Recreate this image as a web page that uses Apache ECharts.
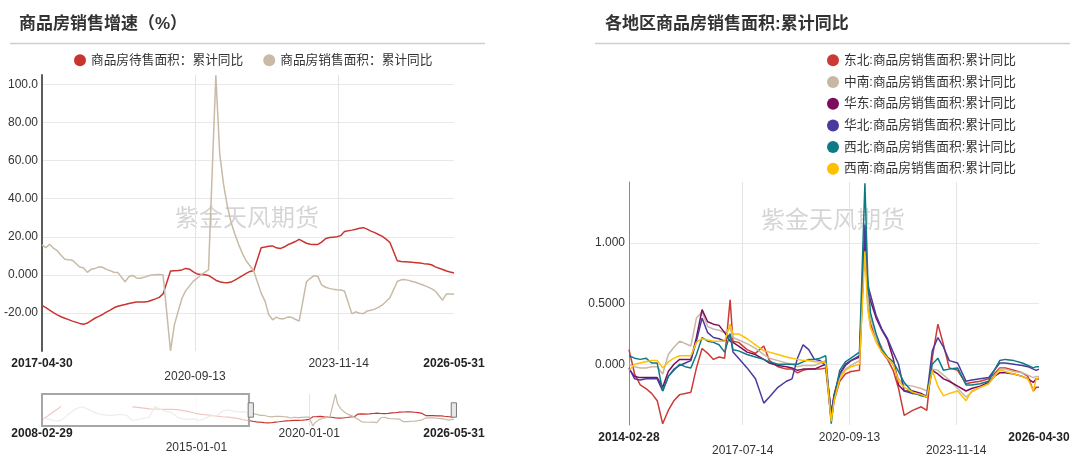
<!DOCTYPE html>
<html>
<head>
<meta charset="utf-8">
<title>商品房销售</title>
<script src="https://cdn.jsdelivr.net/npm/echarts@6/dist/echarts.min.js"></script>
<style>
html, body { margin: 0; padding: 0; background: #fff; }
#main { width: 1080px; height: 458px; }
</style>
</head>
<body>
<div id="main"></div>
<script>
var FONT = '"Liberation Sans", "Noto Sans CJK SC", sans-serif';

// ---- 左图：商品房销售增速（%） ----
var salesDates = [
	'2008-02-29', '2008-05-31', '2008-08-31', '2008-11-30', '2008-12-31',
	'2009-02-28', '2009-05-31', '2009-08-31', '2009-11-30',
	'2010-02-28', '2010-05-31', '2010-08-31', '2010-11-30',
	'2011-02-28', '2011-05-31', '2011-08-31', '2011-11-30',
	'2012-02-29', '2012-05-31', '2012-08-31', '2012-11-30',
	'2013-02-28', '2013-05-31', '2013-08-31', '2013-11-30',
	'2014-02-28', '2014-05-31', '2014-08-31', '2014-11-30',
	'2015-02-28', '2015-05-31', '2015-08-31', '2015-11-30',
	'2016-02-29', '2016-05-31', '2016-08-31', '2016-11-30',
	'2017-02-28', '2017-03-31',
	'2017-04-30', '2017-05-31', '2017-06-30', '2017-07-31', '2017-08-31', '2017-09-30', '2017-10-31', '2017-11-30', '2017-12-31',
	'2018-02-28', '2018-03-31', '2018-04-30', '2018-05-31', '2018-06-30', '2018-07-31', '2018-08-31', '2018-09-30', '2018-10-31', '2018-11-30', '2018-12-31',
	'2019-02-28', '2019-03-31', '2019-04-30', '2019-05-31', '2019-06-30', '2019-07-31', '2019-08-31', '2019-09-30', '2019-10-31', '2019-11-30', '2019-12-31',
	'2020-02-29', '2020-03-31', '2020-04-30', '2020-05-31', '2020-06-30', '2020-07-31', '2020-08-31', '2020-09-30', '2020-10-31', '2020-11-30', '2020-12-31',
	'2021-02-28', '2021-03-31', '2021-04-30', '2021-05-31', '2021-06-30', '2021-07-31', '2021-08-31', '2021-09-30', '2021-10-31', '2021-11-30', '2021-12-31',
	'2022-02-28', '2022-03-31', '2022-04-30', '2022-05-31', '2022-06-30', '2022-07-31', '2022-08-31', '2022-09-30', '2022-10-31', '2022-11-30', '2022-12-31',
	'2023-02-28', '2023-03-31', '2023-04-30', '2023-05-31', '2023-06-30', '2023-07-31', '2023-08-31', '2023-09-30', '2023-10-31', '2023-11-30', '2023-12-31',
	'2024-02-29', '2024-03-31', '2024-04-30', '2024-05-31', '2024-06-30', '2024-07-31', '2024-08-31', '2024-09-30', '2024-10-31', '2024-11-30', '2024-12-31',
	'2025-02-28', '2025-03-31', '2025-04-30', '2025-05-31', '2025-06-30', '2025-07-31', '2025-08-31', '2025-09-30', '2025-10-31', '2025-11-30', '2025-12-31',
	'2026-02-28', '2026-03-31', '2026-04-30', '2026-05-31'
];
// 商品房待售面积：累计同比
var unsoldArea = [
	-12, 5, 25, 42, 50,
	null, null, null, null,
	null, null, null, null,
	null, null, null, null,
	47, 44, 41, 38,
	37, 36, 35, 35,
	34, 30, 25, 19,
	14, 11, 8, 5,
	2, 0, -3, -8,
	-13, -15,
	-16.0, -17.2, -18.5, -19.8, -21.0, -22.0, -22.8, -23.5, -24.3,
	-25.5, -26.0, -25.3, -24.0, -22.8, -21.8, -20.8, -19.6, -18.5, -17.3, -16.5,
	-15.6, -15.0, -14.6, -14.3, -14.2, -14.3, -14.0, -13.3, -12.6, -11.8, -10.0,
	2.0, 2.2, 2.3, 2.6, 3.4, 3.0, 1.6, 0.5, 0.2, 0.0, -0.3,
	-2.8, -3.6, -4.0, -4.2, -3.8, -2.8, -1.6, -0.4, 0.8, 1.8, 2.3,
	14.2, 14.6, 15.0, 15.2, 14.2, 13.8, 14.6, 15.8, 16.6, 17.5, 18.6,
	16.6, 16.1, 16.0, 16.0, 17.2, 19.0, 19.6, 19.8, 20.0, 20.6, 22.8,
	23.5, 24.0, 24.5, 24.8, 24.0, 23.0, 22.2, 21.2, 20.2, 18.8, 17.0,
	7.4, 7.0, 6.9, 6.8, 6.6, 6.4, 6.2, 5.9, 5.7, 5.3, 4.2,
	2.8, 2.0, 1.5, 1.0
];
// 商品房销售面积：累计同比
var soldArea = [
	-2, -8, -15, -18, -19.7,
	-3, 20, 38, 47,
	38, 25, 15, 10,
	7, 10, 12, 8,
	-14, -11, -5, 0,
	49, 35, 26, 20,
	-1, -8, -10, -8,
	-16, -3, 6, 7,
	28, 33, 26, 24,
	25, 19.5,
	15.7, 14.3, 16.1, 14.0, 12.7, 10.3, 8.2, 7.9, 7.7,
	4.1, 3.6, 1.3, 2.9, 3.3, 4.2, 4.0, 2.9, 2.2, 1.4, 1.3,
	-3.6, -0.9, -0.3, -1.6, -1.8, -1.3, -0.6, -0.1, 0.1, 0.2, -0.1,
	-39.9, -26.3, -19.3, -12.3, -8.4, -5.8, -3.3, -1.8, 0.0, 1.3, 2.6,
	104.9, 63.8, 48.1, 36.3, 27.7, 21.5, 15.9, 11.3, 7.3, 4.8, 1.9,
	-9.6, -13.8, -20.9, -23.6, -22.2, -23.1, -23.0, -22.2, -22.3, -23.3, -24.3,
	-3.6, -1.8, -0.4, -0.9, -5.3, -6.5, -7.1, -7.5, -7.8, -8.0, -8.5,
	-20.5, -19.4, -20.2, -20.3, -19.0, -18.6, -18.0, -17.1, -15.8, -14.0, -12.0,
	-3.5, -2.6, -2.5, -2.9, -3.5, -4.0, -4.8, -5.5, -6.3, -7.2, -8.5,
	-13.3, -10.0, -10.0, -10.2
];
var salesNames = ['商品房待售面积：累计同比', '商品房销售面积：累计同比'];
var salesTicks = ['2017-04-30', '2020-09-13', '2023-11-14', '2026-05-31'];
var sliderTicks = ['2008-02-29', '2015-01-01', '2020-01-01', '2026-05-31'];
var windowStart = '2017-04-30';
var windowEnd = '2026-05-31';

// ---- 右图：各地区商品房销售面积:累计同比 ----
var regionDates = [
	'2014-02-28', '2014-04-30', '2014-06-30', '2014-08-31', '2014-10-31', '2014-12-31',
	'2015-02-28', '2015-04-30', '2015-06-30', '2015-08-31', '2015-10-31', '2015-12-31',
	'2016-02-29', '2016-04-30', '2016-06-30', '2016-08-31', '2016-10-31', '2016-12-31',
	'2017-02-28', '2017-03-31', '2017-05-31', '2017-08-31', '2017-11-30',
	'2018-02-28', '2018-04-30', '2018-07-31', '2018-10-31', '2018-12-31',
	'2019-02-28', '2019-04-30', '2019-06-30', '2019-08-31', '2019-10-31', '2019-12-31',
	'2020-02-29', '2020-03-31', '2020-05-31', '2020-07-31', '2020-09-30', '2020-12-31',
	'2021-02-28', '2021-03-31', '2021-04-30', '2021-06-30', '2021-08-31', '2021-10-31', '2021-12-31',
	'2022-02-28', '2022-04-30', '2022-07-31', '2022-10-31', '2022-12-31',
	'2023-02-28', '2023-04-30', '2023-06-30', '2023-08-31', '2023-11-30',
	'2024-02-29', '2024-04-30', '2024-07-31', '2024-10-31', '2024-12-31',
	'2025-02-28', '2025-04-30', '2025-07-31', '2025-10-31', '2025-12-31',
	'2026-02-28', '2026-03-31', '2026-04-30'
];
var northeast = [
	0.12, -0.08, -0.17, -0.20, -0.24, -0.30,
	-0.49, -0.38, -0.30, -0.25, -0.24, -0.23,
	-0.03, 0.13, 0.09, 0.04, 0.06, 0.05,
	0.53, 0.19, 0.18, 0.12, 0.09,
	0.15, 0.03, -0.02, -0.04, -0.04,
	-0.07, -0.05, -0.04, -0.04, -0.04, -0.03,
	-0.46, -0.30, -0.14, -0.08, -0.06, -0.05,
	1.10, 0.49, 0.33, 0.22, 0.10, 0.04, -0.05,
	-0.20, -0.42, -0.38, -0.35, -0.38,
	0.05, 0.33, 0.16, -0.03, -0.05,
	-0.16, -0.15, -0.14, -0.12, -0.08,
	-0.03, -0.03, -0.05, -0.07, -0.10,
	-0.22, -0.19, -0.19
];
var centralSouth = [
	0.00, -0.02, -0.03, -0.03, -0.02, -0.02,
	-0.08, 0.08, 0.14, 0.19, 0.17, 0.15,
	0.38, 0.43, 0.31, 0.29, 0.28, 0.26,
	0.30, 0.22, 0.20, 0.17, 0.13,
	0.08, 0.05, 0.03, 0.01, 0.00,
	-0.02, -0.01, -0.01, -0.01, 0.01, 0.03,
	-0.40, -0.27, -0.10, -0.04, -0.01, 0.03,
	1.00, 0.50, 0.38, 0.22, 0.14, 0.05, 0.00,
	-0.12, -0.17, -0.18, -0.20, -0.22,
	-0.04, -0.05, -0.09, -0.13, -0.20,
	-0.27, -0.23, -0.19, -0.16, -0.10,
	-0.04, -0.04, -0.06, -0.07, -0.09,
	-0.11, -0.10, -0.10
];
var eastChina = [
	-0.04, -0.10, -0.11, -0.11, -0.11, -0.11,
	-0.19, -0.06, 0.00, 0.04, 0.04, 0.04,
	0.22, 0.45, 0.35, 0.33, 0.32, 0.26,
	0.19, 0.18, 0.15, 0.10, 0.08,
	0.04, 0.01, -0.01, -0.02, -0.03,
	-0.05, -0.04, -0.04, -0.04, -0.02, 0.00,
	-0.41, -0.25, -0.08, -0.01, 0.03, 0.06,
	1.05, 0.62, 0.52, 0.38, 0.28, 0.20, 0.05,
	-0.17, -0.22, -0.22, -0.24, -0.27,
	-0.05, -0.08, -0.12, -0.14, -0.18,
	-0.22, -0.20, -0.18, -0.15, -0.10,
	-0.07, -0.07, -0.08, -0.10, -0.12,
	-0.15, -0.12, -0.12
];
var northChina = [
	-0.03, -0.12, -0.13, -0.12, -0.12, -0.12,
	-0.22, -0.10, -0.04, -0.01, 0.01, 0.03,
	0.19, 0.38, 0.26, 0.22, 0.21, 0.19,
	0.25, 0.10, 0.05, -0.03, -0.12,
	-0.32, -0.27, -0.19, -0.14, -0.12,
	0.05, 0.16, 0.12, 0.04, 0.03, -0.01,
	-0.40, -0.26, -0.08, 0.00, 0.03, 0.07,
	1.15, 0.65, 0.57, 0.40, 0.29, 0.21, 0.10,
	0.00, -0.22, -0.24, -0.25, -0.26,
	0.11, 0.22, 0.14, 0.03, 0.01,
	-0.14, -0.13, -0.12, -0.11, -0.05,
	0.01, 0.01, 0.00, -0.01, -0.02,
	-0.04, -0.05, -0.04
];
var northwest = [
	0.07, 0.05, 0.04, 0.05, 0.01, 0.01,
	-0.22, -0.10, -0.05, 0.00, -0.02, -0.03,
	0.08, 0.22, 0.19, 0.18, 0.16, 0.10,
	0.25, 0.12, 0.11, 0.08, 0.06,
	0.04, 0.02, 0.00, 0.00, 0.00,
	0.00, 0.02, 0.04, 0.04, 0.05, 0.07,
	-0.49, -0.28, -0.05, 0.02, 0.05, 0.10,
	1.49, 0.71, 0.42, 0.25, 0.12, 0.06, 0.02,
	-0.06, -0.15, -0.23, -0.26, -0.27,
	0.00, 0.05, -0.05, -0.04, -0.03,
	-0.17, -0.17, -0.16, -0.14, -0.05,
	0.03, 0.04, 0.03, 0.01, -0.01,
	-0.03, -0.02, -0.02
];
var southwest = [
	-0.05, 0.00, 0.01, 0.02, 0.03, 0.03,
	-0.03, 0.02, 0.05, 0.07, 0.07, 0.07,
	0.18, 0.21, 0.20, 0.19, 0.19, 0.19,
	0.33, 0.25, 0.25, 0.21, 0.16,
	0.11, 0.10, 0.08, 0.06, 0.05,
	0.04, 0.03, 0.03, 0.02, 0.02, 0.01,
	-0.47, -0.30, -0.12, -0.05, -0.02, 0.00,
	0.93, 0.45, 0.30, 0.18, 0.10, 0.05, 0.00,
	-0.14, -0.19, -0.23, -0.25, -0.27,
	-0.05, -0.18, -0.26, -0.24, -0.22,
	-0.30, -0.22, -0.19, -0.16, -0.10,
	-0.05, -0.06, -0.08, -0.10, -0.12,
	-0.22, -0.12, -0.11
];
var regionNames = [
	'东北:商品房销售面积:累计同比', '中南:商品房销售面积:累计同比',
	'华东:商品房销售面积:累计同比', '华北:商品房销售面积:累计同比',
	'西北:商品房销售面积:累计同比', '西南:商品房销售面积:累计同比'
];
var regionTicks = ['2014-02-28', '2017-07-14', '2020-09-13', '2023-11-14', '2026-04-30'];

var salesColors = ['#c9342f', '#c8baa6'];
var regionColors = ['#cc3a35', '#c6b8a3', '#7e0c5c', '#4b3a9e', '#0f7a85', '#ffc000'];

var toTime = function(s) {
	return +echarts.time.parse(s);
};

var pairs = function(dates, values) {
	var out = [];
	for (var i = 0; i < dates.length; i++) {
		out.push([toTime(dates[i]), values[i]]);
	}
	return out;
};

// first/last label bold, odd ones dropped to a second row
var dateLabel = function(ticks) {
	return function(value) {
		var s = echarts.time.format(value, '{yyyy}-{MM}-{dd}', false);
		var i = ticks.indexOf(s);
		if (i === 0 || i === ticks.length - 1) {
			return '{b|' + s + '}';
		}
		if (i % 2 === 1) {
			return '{n| }\n{n|' + s + '}';
		}
		return '{n|' + s + '}';
	};
};

var dateAxis = function(gridIndex, ticks, margin, lineHeight, extra) {
	var values = ticks.map(toTime);
	var axis = {
		type : 'value',
		scale : true,
		gridIndex : gridIndex,
		axisLine : { show : false },
		axisTick : { show : false, customValues : values },
		axisLabel : {
			customValues : values,
			formatter : dateLabel(ticks),
			margin : margin,
			color : '#222',
			fontSize : 12,
			lineHeight : lineHeight,
			rich : {
				b : { fontWeight : 'bold', fontSize : 12, lineHeight : lineHeight, color : '#222' },
				n : { fontSize : 12, lineHeight : lineHeight, color : '#333' }
			}
		},
		splitLine : {
			show : true,
			showMinLine : false,
			showMaxLine : false,
			lineStyle : { color : '#e4e4e4', width : 1 }
		}
	};
	for (var k in extra) {
		axis[k] = extra[k];
	}
	return axis;
};

var valueAxis = function(gridIndex, min, max, interval, lineColor, lineWidth) {
	return {
		type : 'value',
		gridIndex : gridIndex,
		min : min,
		max : max,
		interval : interval,
		axisLine : { show : true, lineStyle : { color : lineColor, width : lineWidth } },
		axisTick : { show : false },
		axisLabel : {
			showMinLabel : false,
			showMaxLabel : false,
			margin : 4,
			color : '#333',
			fontSize : 12,
			formatter : function(v) {
				return Number(v).toPrecision(4);
			}
		},
		splitLine : {
			show : true,
			showMinLine : false,
			showMaxLine : false,
			lineStyle : { color : '#e8e8e8', width : 1 }
		}
	};
};

var series = [];
for (var i = 0; i < 2; i++) {
	var vals = i === 0 ? unsoldArea : soldArea;
	series.push({
		name : salesNames[i],
		type : 'line',
		xAxisIndex : 0,
		yAxisIndex : 0,
		symbol : 'none',
		connectNulls : false,
		color : salesColors[i],
		lineStyle : { width : 1.5 },
		data : pairs(salesDates, vals)
	});
	series.push({
		name : salesNames[i],
		type : 'line',
		xAxisIndex : 1,
		yAxisIndex : 1,
		symbol : 'none',
		connectNulls : false,
		color : salesColors[i],
		lineStyle : { width : 1.2 },
		data : pairs(salesDates, vals)
	});
}
// faded box over the part of the overview outside the window
series.push({
	name : 'window',
	type : 'line',
	xAxisIndex : 1,
	yAxisIndex : 1,
	symbol : 'none',
	z : 10,
	data : [],
	markArea : {
		silent : true,
		z : 10,
		itemStyle : {
			color : 'rgba(255,255,255,0.72)',
			borderColor : '#a6a6a6',
			borderWidth : 2
		},
		data : [ [ { xAxis : toTime(sliderTicks[0]) },
				{ xAxis : toTime(windowStart) } ] ]
	}
});

var regionData = [northeast, centralSouth, eastChina, northChina, northwest, southwest];
for (var j = 0; j < regionData.length; j++) {
	series.push({
		name : regionNames[j],
		type : 'line',
		xAxisIndex : 2,
		yAxisIndex : 2,
		symbol : 'none',
		color : regionColors[j],
		lineStyle : { width : 1.5 },
		data : pairs(regionDates, regionData[j])
	});
}

var option = {
	animation : false,
	backgroundColor : '#fff',
	textStyle : { fontFamily : FONT },
	title : [ {
		text : '商品房销售增速（%）',
		left : 19,
		top : 16,
		padding : 0,
		textStyle : { fontSize : 17, fontWeight : 'bold', color : '#333' }
	}, {
		text : '各地区商品房销售面积:累计同比',
		left : 605,
		top : 16,
		padding : 0,
		textStyle : { fontSize : 17, fontWeight : 'bold', color : '#333' }
	} ],
	graphic : [ {
		type : 'line',
		shape : { x1 : 10, y1 : 43.5, x2 : 485, y2 : 43.5 },
		style : { stroke : '#cfcfcf', lineWidth : 1.5 },
		silent : true
	}, {
		type : 'line',
		shape : { x1 : 595, y1 : 43.5, x2 : 1070, y2 : 43.5 },
		style : { stroke : '#cfcfcf', lineWidth : 1.5 },
		silent : true
	}, {
		type : 'text',
		x : 247,
		y : 217,
		silent : true,
		style : {
			text : '紫金天风期货',
			font : '24px "Noto Sans CJK SC"',
			fill : 'rgba(0,0,0,0.17)',
			align : 'center',
			verticalAlign : 'middle'
		}
	}, {
		type : 'text',
		x : 833,
		y : 219,
		silent : true,
		style : {
			text : '紫金天风期货',
			font : '24px "Noto Sans CJK SC"',
			fill : 'rgba(0,0,0,0.17)',
			align : 'center',
			verticalAlign : 'middle'
		}
	} ],
	legend : [ {
		data : salesNames,
		left : 74,
		top : 54,
		padding : 0,
		icon : 'circle',
		itemWidth : 12,
		itemHeight : 12,
		itemGap : 20,
		textStyle : { fontSize : 12.7, color : '#333' }
	}, {
		data : regionNames,
		orient : 'vertical',
		left : 827,
		top : 54,
		padding : 0,
		icon : 'circle',
		itemWidth : 12,
		itemHeight : 12,
		itemGap : 9,
		textStyle : { fontSize : 12.7, color : '#333' }
	} ],
	grid : [
		{ left : 42, top : 75, width : 412, height : 276 },
		{ left : 42, top : 394, width : 412, height : 32 },
		{ left : 629, top : 182, width : 410, height : 243 }
	],
	xAxis : [
		dateAxis(0, salesTicks, 6, 13, { max : toTime(windowEnd) }),
		dateAxis(1, sliderTicks, 1, 14, { min : toTime(sliderTicks[0]), max : toTime(sliderTicks[3]) }),
		dateAxis(2, regionTicks, 6, 13, { min : toTime(regionTicks[0]), max : toTime(regionTicks[4]) })
	],
	yAxis : [
		valueAxis(0, -40, 105, 20, '#5c5c5c', 2),
		{ type : 'value', gridIndex : 1, min : -40, max : 105, show : false },
		valueAxis(2, -0.5, 1.5, 0.5, '#8a8a8a', 1)
	],
	dataZoom : [ {
		type : 'slider',
		xAxisIndex : 0,
		filterMode : 'filter',
		startValue : toTime(windowStart),
		endValue : toTime(windowEnd),
		left : 42,
		width : 412,
		top : 394,
		height : 32,
		showDataShadow : false,
		showDetail : false,
		brushSelect : false,
		backgroundColor : 'rgba(0,0,0,0)',
		borderColor : 'rgba(0,0,0,0)',
		fillerColor : 'rgba(0,0,0,0)',
		handleIcon : 'path://M0,0 L4,0 L4,11 L0,11 Z',
		handleSize : '45%',
		handleStyle : { color : '#e8e8e8', borderColor : '#7a7a7a', borderWidth : 1 },
		moveHandleSize : 0,
		moveHandleStyle : { opacity : 0 },
		emphasis : {
			handleStyle : { color : '#e8e8e8', borderColor : '#7a7a7a' },
			moveHandleStyle : { opacity : 0 }
		},
		z : 12
	} ],
	series : series
};

var chart = echarts.init(document.getElementById('main'));
chart.setOption(option);
</script>
</body>
</html>
